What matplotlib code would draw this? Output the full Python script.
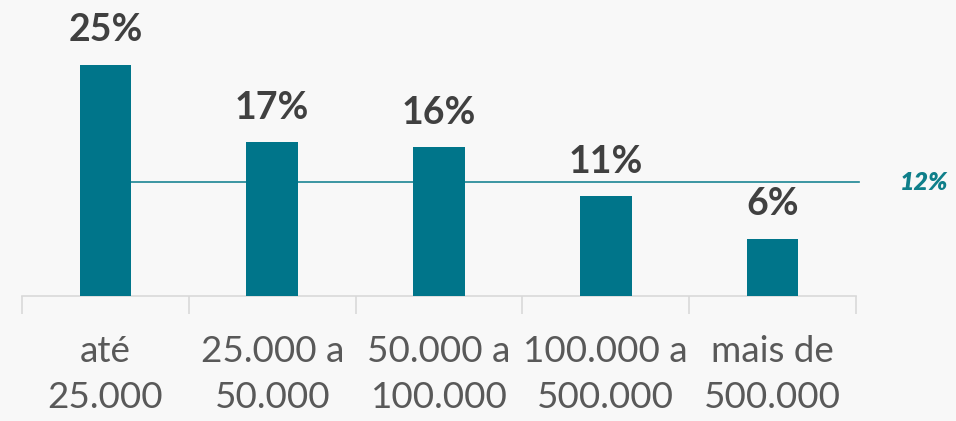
import numpy as np
import matplotlib.pyplot as plt
from matplotlib.ticker import FixedLocator

# faixas de renda e participação (%)
categories = ["até\n25.000", "25.000 a\n50.000", "50.000 a\n100.000",
              "100.000 a\n500.000", "mais de\n500.000"]
shares = [25.0, 16.6, 16.1, 10.8, 6.2]
average = 12.3

BAR_COLOR = "#00758a"
LINE_COLOR = "#1b8594"
TEXT_DARK = "#404040"
TEXT_GRAY = "#595959"

plt.rcParams["font.family"] = ["Lato", "DejaVu Sans"]

fig = plt.figure(figsize=(9.56, 4.21), dpi=100, facecolor="#f8f8f8")
ax = fig.add_axes([22 / 956, 1 - 296 / 421, 834 / 956, 296 / 421])
ax.set_facecolor("none")

x = np.arange(len(categories))
ax.bar(x, shares, width=0.31, color=BAR_COLOR, zorder=3)

for xi, v in zip(x, shares):
    ax.text(xi, v + 1.9, f"{v:.0f}%", ha="center", va="bottom",
            fontsize=27, fontweight="bold", color=TEXT_DARK)

# linha da média
ax.plot([0, 4.52], [average, average], color=LINE_COLOR, linewidth=1.2,
        zorder=2, clip_on=False)
ax.text(4.91, average, f"{average:.0f}%", ha="center", va="center",
        fontsize=18, fontweight="heavy", fontstyle="italic", color="#0f7f8a",
        clip_on=False)

ax.set_xlim(-0.5, 4.5)
ax.set_ylim(0, 32)

for side in ["top", "right", "left"]:
    ax.spines[side].set_visible(False)
ax.spines["bottom"].set_color("#d9d9d9")
ax.spines["bottom"].set_linewidth(1.2)
ax.set_yticks([])

ax.set_xticks(x)
ax.set_xticklabels(categories, fontsize=26.5, color=TEXT_GRAY, linespacing=1.5)
ax.tick_params(axis="x", which="major", length=0, pad=28)
ax.xaxis.set_minor_locator(FixedLocator(np.arange(-0.5, 5.0, 1.0)))
ax.tick_params(axis="x", which="minor", length=13, width=1.2, color="#d9d9d9")

fig.savefig("out.png", dpi=100, facecolor=fig.get_facecolor())
